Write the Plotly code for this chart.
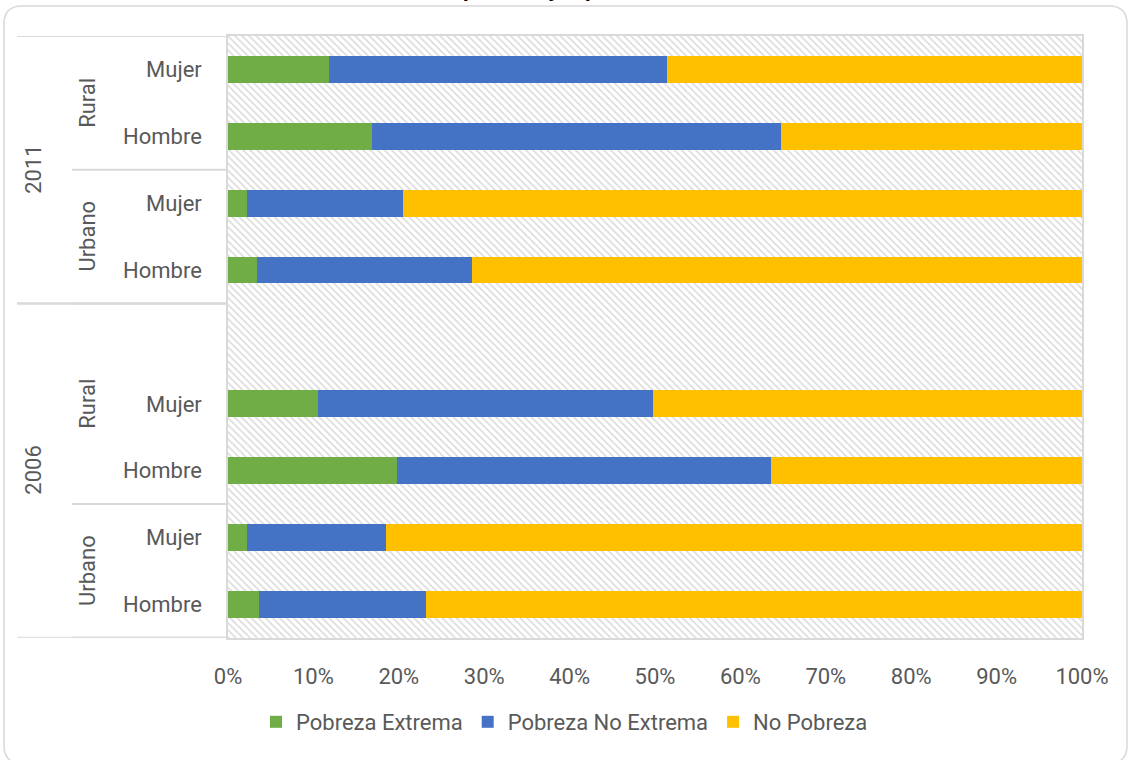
import plotly.graph_objects as go

# data (top row first)
anios = ["2011", "2011", "2011", "2011", "2006", "2006", "2006", "2006", "2006"]
areas = ["Rural", "Rural", "Urbano", "Urbano", "Rural", "Rural", "Rural", "Urbano", "Urbano"]
sexos = ["Mujer", "Hombre", "Mujer", "Hombre", "", "Mujer", "Hombre", "Mujer", "Hombre"]
pobreza_extrema = [11.8, 16.9, 2.2, 3.4, None, 10.5, 19.8, 2.2, 3.6]
pobreza_no_extrema = [39.6, 47.9, 18.3, 25.2, None, 39.3, 43.8, 16.3, 19.6]
no_pobreza = [48.6, 35.2, 79.5, 71.4, None, 50.2, 36.4, 81.5, 76.8]
x_ticks = [0, 10, 20, 30, 40, 50, 60, 70, 80, 90, 100]
titulo = "porcentajes por sexo"

colores = ["#70AD47", "#4472C4", "#FFC000"]
gris = "#D9D9D9"
texto = "#595959"
fuente = "Roboto, Arial, sans-serif"

W, H = 1129, 760
ML, MR, MT, MB = 228, 47, 36, 120
PW, PH = W - ML - MR, H - MT - MB


def fx(px):
    return (px - ML) / PW


def fy(py):
    return (H - MB - py) / PH


pos = list(range(len(sexos)))


def suma(*cols):
    return [None if any(c[i] is None for c in cols) else sum(c[i] for c in cols) for i in pos]


fig = go.Figure()

# hatched background of the plot area
fig.add_trace(go.Bar(
    y=pos, x=[x_ticks[-1]] * len(pos), base=0, orientation="h", width=1,
    marker=dict(color="white", line_width=0,
                pattern=dict(shape="\\", fgcolor="#B4B4B4", bgcolor="white", size=5, solidity=0.3)),
    showlegend=False, hoverinfo="skip",
))

series = [
    ("Pobreza Extrema", pobreza_extrema, [0 if v is not None else None for v in pobreza_extrema]),
    ("Pobreza No Extrema", pobreza_no_extrema, pobreza_extrema),
    ("No Pobreza", no_pobreza, suma(pobreza_extrema, pobreza_no_extrema)),
]
for (nombre, vals, base), col in zip(series, colores):
    fig.add_trace(go.Bar(
        y=pos, x=vals, base=base, orientation="h", name=nombre, width=0.4,
        marker=dict(color=col, line_width=0),
        hovertemplate=nombre + ": %{x:.1f}%<extra></extra>",
    ))

shapes = []
anns = []

# group labels and separators for area / year levels
def grupos(claves):
    runs = []
    ini = 0
    for i in range(1, len(claves) + 1):
        if i == len(claves) or claves[i] != claves[ini]:
            runs.append((claves[ini], ini, i - 1))
            ini = i
    return runs

for nombre, a, b in grupos(list(zip(anios, areas))):
    anns.append(dict(x=fx(88), xref="paper", xanchor="center", y=(a + b) / 2, yref="y",
                     text=nombre[1], textangle=-90, showarrow=False,
                     font=dict(size=22, color=texto, family=fuente)))
    shapes.append(dict(type="line", xref="paper", yref="y", x0=fx(72), x1=0, y0=b + 0.5, y1=b + 0.5,
                       line=dict(color=gris, width=2)))

for nombre, a, b in grupos(anios):
    anns.append(dict(x=fx(34), xref="paper", xanchor="center", y=(a + b) / 2, yref="y",
                     text=nombre, textangle=-90, showarrow=False,
                     font=dict(size=22, color=texto, family=fuente)))
    for yy in (a - 0.5, b + 0.5):
        shapes.append(dict(type="line", xref="paper", yref="y", x0=fx(17), x1=0, y0=yy, y1=yy,
                           line=dict(color=gris, width=2)))

# rounded chart border (bottom edge runs off the picture)
x0, x1, y0, y1, r = 4, 1127, 6, 766, 18
pts = [("M", x0 + r, y0), ("L", x1 - r, y0), ("Q", x1, y0, x1, y0 + r), ("L", x1, y1 - r),
       ("Q", x1, y1, x1 - r, y1), ("L", x0 + r, y1), ("Q", x0, y1, x0, y1 - r), ("L", x0, y0 + r),
       ("Q", x0, y0, x0 + r, y0)]
path = ""
for p in pts:
    coords = p[1:]
    seg = []
    for k in range(0, len(coords), 2):
        seg.append(f"{fx(coords[k]):.5f},{fy(coords[k + 1]):.5f}")
    path += p[0] + " ".join(seg) + " "
shapes.append(dict(type="path", xref="paper", yref="paper", path=path + "Z",
                   line=dict(color=gris, width=1.5), layer="below"))

# title (cut off at the top in the original)
anns.append(dict(x=fx(566), xref="paper", y=fy(-11.5), yref="paper", yanchor="middle",
                 text="<b>" + titulo + "</b>", showarrow=False,
                 font=dict(size=22, color="black", family=fuente)))

fig.update_layout(
    width=W, height=H,
    margin=dict(l=ML, r=MR, t=MT, b=MB),
    paper_bgcolor="white", plot_bgcolor="white",
    barmode="overlay", bargap=0,
    font=dict(family=fuente, color=texto, size=22),
    shapes=shapes, annotations=anns,
    legend=dict(orientation="h", xref="container", x=0.5, xanchor="center",
                yref="container", y=1 - 722 / H, yanchor="middle",
                font=dict(size=22, color=texto, family=fuente), itemwidth=30,
                traceorder="normal"),
    showlegend=True,
)

fig.update_xaxes(
    range=[x_ticks[0], x_ticks[-1]], tickvals=x_ticks, ticktext=[f"{v}%" for v in x_ticks],
    showgrid=True, gridcolor=gris, gridwidth=1.5,
    showline=True, linecolor=gris, linewidth=1.5, mirror=True,
    ticks="", ticklabelstandoff=18, zeroline=False,
    tickfont=dict(size=22, color=texto, family=fuente),
)
fig.update_yaxes(
    range=[len(pos) - 0.5, -0.5], tickvals=pos, ticktext=sexos,
    showgrid=False, zeroline=False,
    minor=dict(tickvals=[p - 0.5 for p in pos] + [pos[-1] + 0.5], showgrid=True,
               gridcolor=gris, gridwidth=1.5, ticks=""),
    showline=True, linecolor=gris, linewidth=1.5, mirror=True,
    ticks="", ticklabelstandoff=20,
    tickfont=dict(size=22, color=texto, family=fuente),
)

fig.write_html("out.html", config={"displayModeBar": False},
               post_script="document.body.style.margin='0';")
